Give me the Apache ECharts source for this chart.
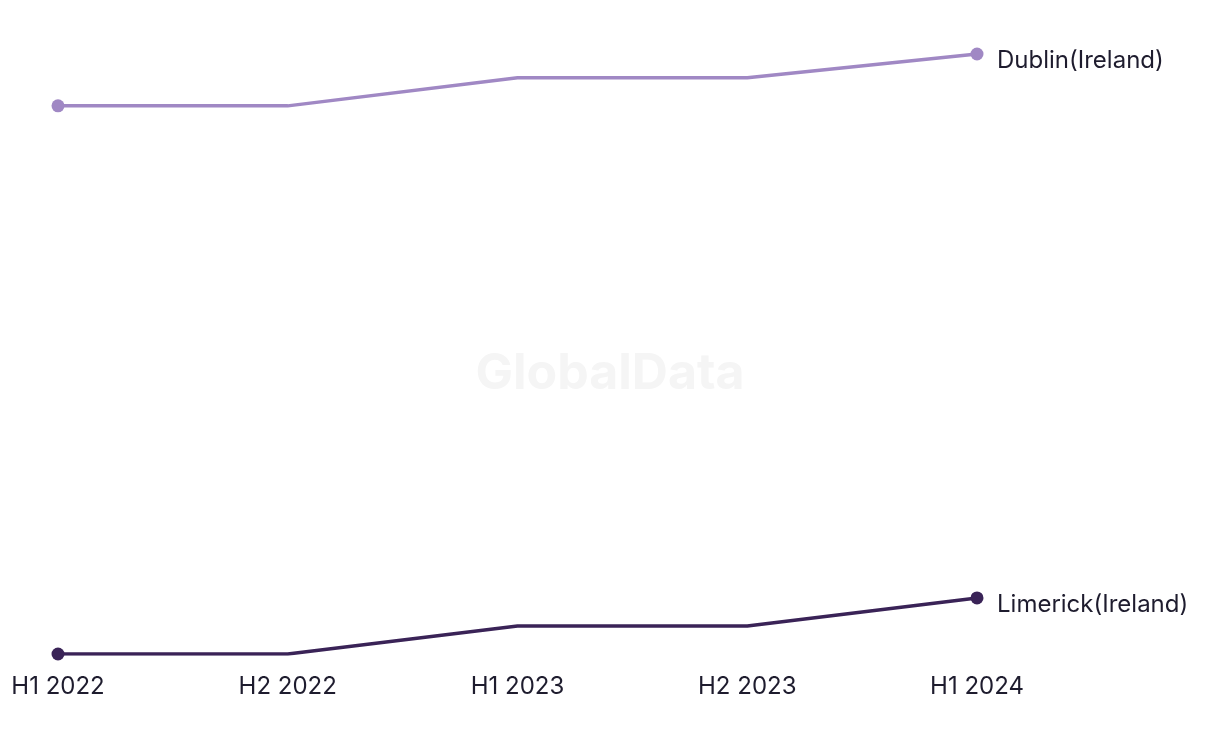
<!DOCTYPE html>
<html>
<head>
<meta charset="utf-8">
<script src="https://cdn.jsdelivr.net/npm/echarts@6/dist/echarts.min.js"></script>
<style>html,body{margin:0;padding:0;background:#fff}#c{width:1220px;height:744px}</style>
</head>
<body>
<div id="c"></div>
<script>
const categories = ['H1 2022', 'H2 2022', 'H1 2023', 'H2 2023', 'H1 2024'];
const dublinName = 'Dublin(Ireland)';
const dublinValues = [20.55, 20.55, 21.55, 21.55, 22.4];
const limerickName = 'Limerick(Ireland)';
const limerickValues = [1, 1, 2, 2, 3];

const FONT = 'Inter';
const TEXT = '#1e1c2e';
const chart = echarts.init(document.getElementById('c'), null, {renderer: 'canvas'});
function endSym(v, p) { return (p.dataIndex === 0 || p.dataIndex === categories.length - 1) ? 13 : 0; }
function mk(name, data, color) {
  return {
    name, type: 'line', data,
    symbol: 'circle', symbolSize: endSym, showAllSymbol: true,
    lineStyle: {color, width: 3.5}, itemStyle: {color},
    endLabel: {show: true, formatter: '{a}', color: TEXT, fontFamily: FONT, fontSize: 24, distance: 20, offset: [0, 7]},
    emphasis: {disabled: true}, animation: false
  };
}
chart.setOption({
  backgroundColor: '#fff',
  graphic: [{type: 'text', left: 'center', top: 349, style: {text: 'GlobalData', fontFamily: FONT, fontWeight: 'bold', fontSize: 50, fill: '#f5f5f5'}, z: -1}],
  grid: {left: 58, right: 243, top: 54, bottom: 90, containLabel: false},
  xAxis: {type: 'category', data: categories, boundaryGap: false,
    axisLine: {show: false}, axisTick: {show: false}, splitLine: {show: false},
    axisLabel: {color: TEXT, fontFamily: FONT, fontSize: 24, margin: 21}},
  yAxis: {type: 'value', min: 1, max: 22.4, show: false, splitLine: {show: false}},
  series: [mk(dublinName, dublinValues, '#a088c4'), mk(limerickName, limerickValues, '#3a2357')]
});
</script>
</body>
</html>
